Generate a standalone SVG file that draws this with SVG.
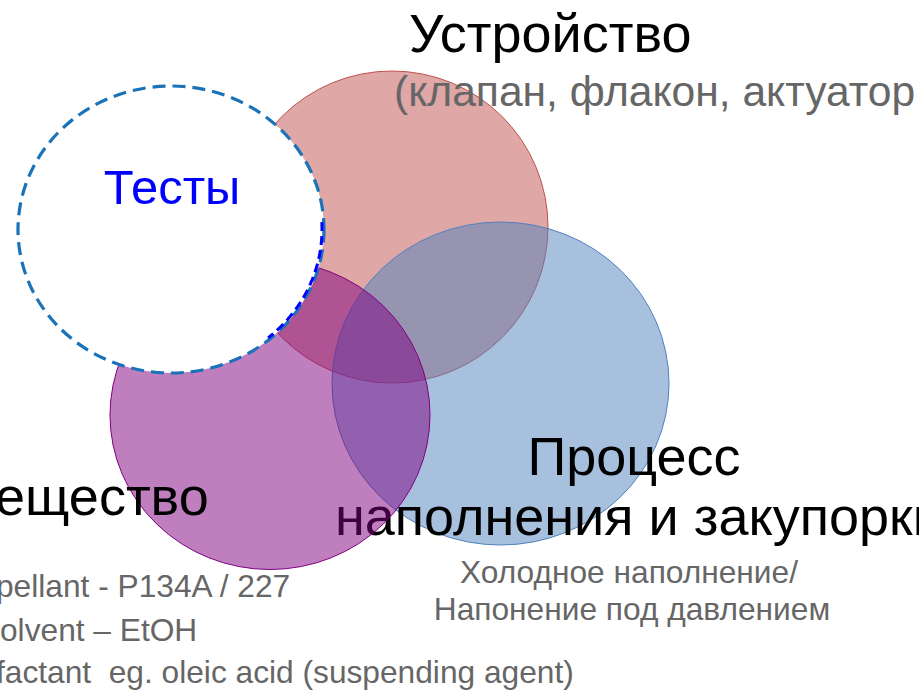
<svg xmlns="http://www.w3.org/2000/svg" width="919" height="691" viewBox="0 0 919 691">
<style>
  .set { stroke-width: 1; fill-opacity: 0.5; }
  .head { font-family: "Liberation Sans", Arial, sans-serif; font-size: 54px; fill: #000; }
  .sub { font-family: "Liberation Sans", Arial, sans-serif; font-size: 31.7px; fill: #666; white-space: pre; }
  .tests { font-family: "Liberation Sans", Arial, sans-serif; font-size: 49px; fill: #0000FF; }
</style>
<rect width="919" height="691" fill="#ffffff"/>
<g id="device">
  <circle class="set" cx="392" cy="227" r="156" fill="#C0504D" stroke="#C0504D"/>
</g>
<g id="process">
  <ellipse class="set" cx="500.5" cy="383.5" rx="168.5" ry="161.5" fill="#4F81BD" stroke="#4F81BD"/>
  <text class="head" x="634" y="475" text-anchor="middle">Процесс</text>
  <text class="head" x="335" y="535">наполнения и закупорки</text>
  <text class="sub" x="629" y="583" text-anchor="middle">Холодное наполнение/</text>
  <text class="sub" x="632" y="620" text-anchor="middle">Напонение под давлением</text>
</g>
<g id="substance">
  <ellipse class="set" cx="270" cy="415" rx="160" ry="154.5" fill="#800080" stroke="#800080"/>
  <text class="head" x="-5" y="515">ещество</text>
  <text class="sub" x="-4" y="597">pellant - P134A / 227</text>
  <text class="sub" x="0" y="641">olvent – EtOH</text>
  <text class="sub" x="-4" y="683">factant  eg. oleic acid (suspending agent)</text>
</g>
<g id="tests">
  <ellipse cx="171" cy="229.5" rx="153" ry="143.5" fill="#ffffff" stroke="#1A72B8" stroke-width="3.2" stroke-dasharray="13 7"/>
  <path d="M321.8,222.1 A151,141.5 0 0 1 268.1,337.9" fill="none" stroke="#0000FF" stroke-width="3" stroke-dasharray="9 5"/>
  <text class="tests" x="172" y="204" text-anchor="middle">Тесты</text>
</g>
<g id="device-label">
  <text class="head" x="409" y="52">Устройство</text>
  <text class="sub" x="394" y="106" style="font-size:42.6px">(клапан, флакон, актуатор</text>
</g>
<g id="connectors"/>
</svg>
